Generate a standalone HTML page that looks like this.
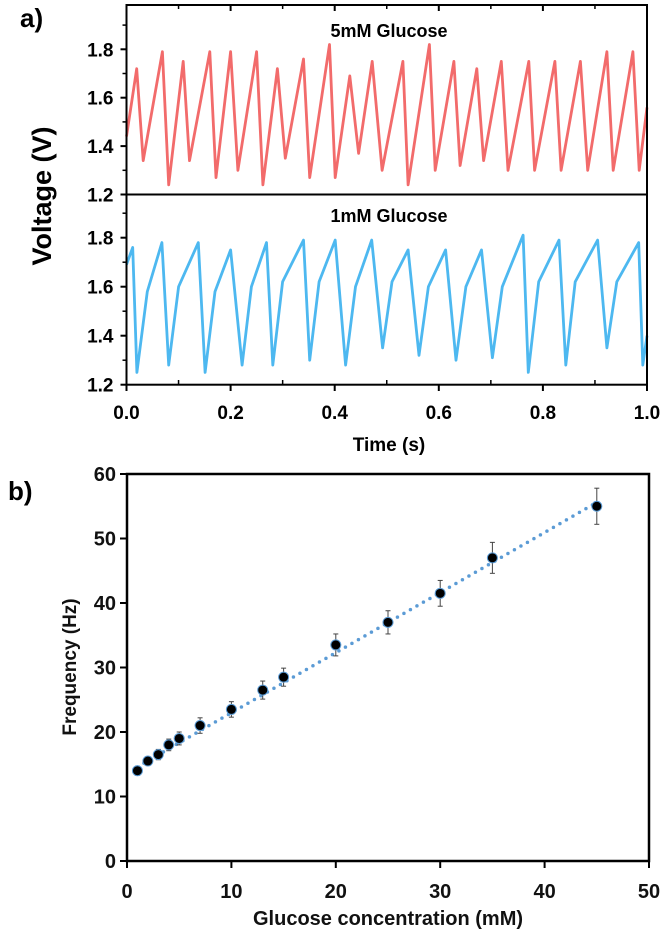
<!DOCTYPE html>
<html><head><meta charset="utf-8"><style>
html,body{margin:0;padding:0;background:#fff;}
svg{display:block;font-family:"Liberation Sans",Arial,sans-serif;}
</style></head><body>
<svg id="fig" width="665" height="934" viewBox="0 0 665 934">
<g id="topPanel"></g>
<g id="botPanel"></g>
</svg>
<script>
// ---- panel a data ----
const redPeakT=[0.0196,0.069,0.109,0.160,0.200,0.250,0.290,0.340,0.390,0.429,0.472,0.531,0.582,0.629,0.673,0.720,0.773,0.823,0.872,0.923,0.973];
const redPeakV=[1.72,1.79,1.75,1.79,1.79,1.79,1.72,1.76,1.82,1.69,1.75,1.75,1.82,1.75,1.72,1.75,1.75,1.75,1.75,1.79,1.79];
const redTroughT=[0.032,0.081,0.121,0.172,0.214,0.262,0.305,0.352,0.401,0.446,0.491,0.541,0.593,0.641,0.686,0.733,0.784,0.835,0.886,0.935,0.985];
const redTroughV=[1.34,1.24,1.34,1.27,1.30,1.24,1.35,1.27,1.27,1.37,1.30,1.24,1.30,1.32,1.34,1.30,1.30,1.30,1.30,1.30,1.30];
const redStart=[0,1.44], redEnd=[1,1.56];
const bluePeakT=[0.012,0.068,0.138,0.200,0.269,0.340,0.401,0.471,0.541,0.613,0.682,0.762,0.831,0.905,0.984];
const bluePeakV=[1.76,1.78,1.78,1.75,1.78,1.79,1.79,1.79,1.75,1.75,1.75,1.81,1.79,1.79,1.78];
const blueTroughT=[0.020,0.081,0.151,0.222,0.281,0.352,0.421,0.492,0.562,0.633,0.703,0.772,0.844,0.923,0.992];
const blueTroughV=[1.25,1.28,1.25,1.28,1.28,1.30,1.28,1.35,1.32,1.30,1.31,1.25,1.28,1.35,1.28];
const blueKneeT=[0.040,0.100,0.170,0.240,0.300,0.370,0.440,0.510,0.580,0.652,0.722,0.792,0.862,0.942];
const blueKneeV=[1.58,1.60,1.58,1.60,1.62,1.62,1.60,1.62,1.60,1.60,1.60,1.62,1.62,1.62];
const blueStart=[0,1.69], blueEnd=[1,1.40];
const timeTicks=["0.0","0.2","0.4","0.6","0.8","1.0"];
const voltTicks=["1.2","1.4","1.6","1.8"];
// ---- panel b data ----
const conc=[1,2,3,4,5,7,10,13,15,20,25,30,35,45];
const freq=[14,15.5,16.5,18,19,21,23.5,26.5,28.5,33.5,37,41.5,47,55];
const freqErr=[0.7,0.7,0.8,0.9,1.0,1.2,1.2,1.4,1.4,1.7,1.8,2.0,2.4,2.8];
const fitLine=[[1,14.6],[45,55.6]];
const concTicks=[0,10,20,30,40,50];
const freqTicks=[0,10,20,30,40,50,60];

const NS="http://www.w3.org/2000/svg";
function mk(parent,tag,attrs,text){const e=document.createElementNS(NS,tag);for(const k in attrs)e.setAttribute(k,attrs[k]);if(text!==undefined)e.textContent=text;parent.appendChild(e);return e;}
const topG=document.getElementById('topPanel'), botG=document.getElementById('botPanel');

const L=126.5,R=647;
const tx=t=>L+t*(R-L);
const vyU=v=>194.5-(v-1.2)/0.2*48.4;
const vyL=v=>384.7-(v-1.2)/0.2*49;

function buildPts(st,pT,pV,tT,tV,en,kT,kV){const p=[[st[0],st[1]]];for(let i=0;i<pT.length;i++){p.push([pT[i],pV[i]]);p.push([tT[i],tV[i]]);if(kT&&i<kT.length)p.push([kT[i],kV[i]]);}p.push([en[0],en[1]]);return p;}
let e;
const redPts=buildPts(redStart,redPeakT,redPeakV,redTroughT,redTroughV,redEnd);
e=mk(topG,'polyline',{points:redPts.map(p=>tx(p[0]).toFixed(1)+','+vyU(p[1]).toFixed(1)).join(' '),fill:'none',stroke:'#f26b6b','stroke-width':2.8,'stroke-linejoin':'round'});


const bluePts=buildPts(blueStart,bluePeakT,bluePeakV,blueTroughT,blueTroughV,blueEnd,blueKneeT,blueKneeV);
e=mk(topG,'polyline',{points:bluePts.map(p=>tx(p[0]).toFixed(1)+','+vyL(p[1]).toFixed(1)).join(' '),fill:'none',stroke:'#4db8f0','stroke-width':2.8,'stroke-linejoin':'round'});



e=mk(topG,'rect',{x:L,y:5,width:R-L,height:379.7,fill:'none',stroke:'#000','stroke-width':2});


mk(topG,'line',{x1:L,y1:194.5,x2:R,y2:194.5,stroke:'#000','stroke-width':2});
timeTicks.forEach((s,i)=>{const x=tx(+s);
 mk(topG,'line',{x1:x,y1:384.7,x2:x,y2:391,stroke:'#000','stroke-width':2});
 mk(topG,'line',{x1:x,y1:5,x2:x,y2:11,stroke:'#000','stroke-width':2});
 const t=mk(topG,'text',{x:x,y:419,'text-anchor':'middle','font-size':19,'font-weight':'bold'},s);
 
 
 if(i<5){const xm=tx(+s+0.1);mk(topG,'line',{x1:xm,y1:384.7,x2:xm,y2:380,stroke:'#000','stroke-width':1.5});mk(topG,'line',{x1:xm,y1:5,x2:xm,y2:9,stroke:'#000','stroke-width':1.5});}
});
[vyU,vyL].forEach(f=>{
 voltTicks.forEach(s=>{const y=f(+s);
  mk(topG,'line',{x1:L-6,y1:y,x2:L,y2:y,stroke:'#000','stroke-width':2});
  const t=mk(topG,'text',{x:L-13,y:y+7,'text-anchor':'end','font-size':19,'font-weight':'bold'},s);
  
  
  const ym=f(+s+0.1);mk(topG,'line',{x1:L-4,y1:ym,x2:L,y2:ym,stroke:'#000','stroke-width':1.5});
 });
});
e=mk(topG,'text',{x:389,y:37,'text-anchor':'middle','font-size':18,'font-weight':'bold'},'5mM Glucose');


e=mk(topG,'text',{x:389,y:222,'text-anchor':'middle','font-size':18,'font-weight':'bold'},'1mM Glucose');


e=mk(topG,'text',{x:389,y:451,'text-anchor':'middle','font-size':19,'font-weight':'bold'},'Time (s)');


e=mk(topG,'text',{x:0,y:0,transform:'translate(51,196) rotate(-90)','text-anchor':'middle','font-size':27,'font-weight':'bold'},'Voltage (V)');


e=mk(topG,'text',{x:20,y:27,'font-size':26,'font-weight':'bold'},'a)');



const BL=127,BR=649,BT=474,BB=861;
const cx=c=>BL+c/50*(BR-BL);
const fy=f=>BB-f/60*(BB-BT);
e=mk(botG,'rect',{x:BL,y:BT,width:BR-BL,height:BB-BT,fill:'none',stroke:'#000','stroke-width':2.5});


concTicks.forEach(c=>{const x=cx(c);
 mk(botG,'line',{x1:x,y1:BB,x2:x,y2:BB+7,stroke:'#000','stroke-width':2});
 const t=mk(botG,'text',{x:x,y:898,'text-anchor':'middle','font-size':20,'font-weight':'bold','fill':'#111'},String(c));
 
 
});
freqTicks.forEach(f=>{const y=fy(f);
 mk(botG,'line',{x1:BL-7,y1:y,x2:BL,y2:y,stroke:'#000','stroke-width':2});
 const t=mk(botG,'text',{x:116,y:y+7,'text-anchor':'end','font-size':20,'font-weight':'bold','fill':'#111'},String(f));
 
 
});
e=mk(botG,'line',{x1:cx(fitLine[0][0]),y1:fy(fitLine[0][1]),x2:cx(fitLine[1][0]),y2:fy(fitLine[1][1]),stroke:'#5b9bd5','stroke-width':3.5,'stroke-dasharray':'0 7.5','stroke-linecap':'round'});


conc.forEach((c,i)=>{const x=cx(c),y=fy(freq[i]),y1=fy(freq[i]+freqErr[i]),y2=fy(freq[i]-freqErr[i]);
 const g=mk(botG,'g',{});
 
 
 mk(g,'line',{x1:x,y1:y1,x2:x,y2:y2,stroke:'#444','stroke-width':1});
 mk(g,'line',{x1:x-2.5,y1:y1,x2:x+2.5,y2:y1,stroke:'#444','stroke-width':1});
 mk(g,'line',{x1:x-2.5,y1:y2,x2:x+2.5,y2:y2,stroke:'#444','stroke-width':1});
 mk(g,'circle',{cx:x,cy:y,r:5,fill:'#000',stroke:'#5b9bd5','stroke-width':1});
});
e=mk(botG,'text',{x:388,y:925,'text-anchor':'middle','font-size':20,'font-weight':'bold','fill':'#111'},'Glucose concentration (mM)');


e=mk(botG,'text',{x:0,y:0,transform:'translate(76,667) rotate(-90)','text-anchor':'middle','font-size':19,'font-weight':'bold','fill':'#111'},'Frequency (Hz)');


e=mk(botG,'text',{x:8,y:500,'font-size':26,'font-weight':'bold'},'b)');


</script>
</body></html>
